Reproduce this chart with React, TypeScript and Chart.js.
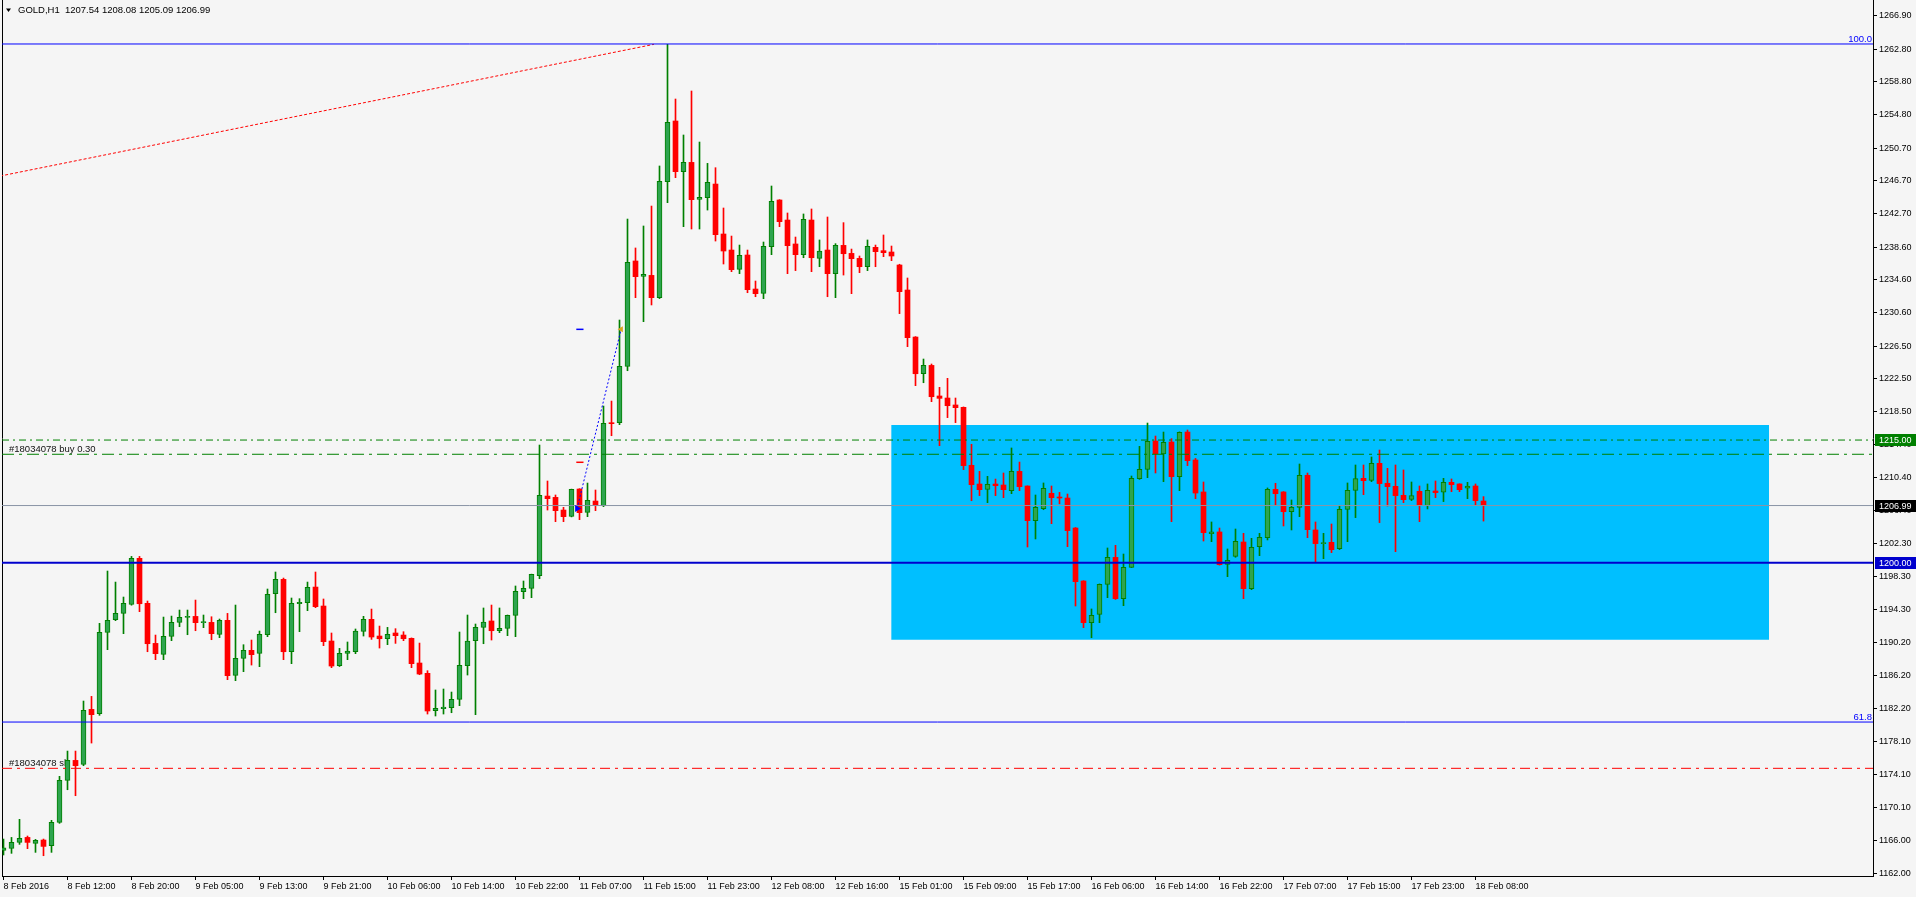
import React, { useEffect, useRef } from 'react';
import { Chart, registerables } from 'chart.js';

Chart.register(...registerables);

// ---------- data ----------
const symbol = 'GOLD,H1';

const opens = [1164.82,1165.06,1165.79,1166.40,1165.67,1166.08,1165.38,1168.24,1173.38,1175.82,
1175.33,1182.06,1181.53,1191.48,1193.03,1193.80,1194.90,1200.53,1195.03,1190.13,
1188.79,1190.99,1192.70,1193.31,1193.43,1192.66,1192.70,1191.23,1192.95,1186.22,
1188.30,1189.28,1188.91,1191.19,1196.21,1197.96,1189.11,1194.98,1195.11,1197.02,
1194.70,1190.42,1187.40,1188.91,1189.12,1191.60,1193.07,1191.03,1190.70,1191.40,
1191.15,1190.75,1187.73,1186.47,1181.90,1182.14,1182.27,1183.29,1187.40,1190.46,
1192.09,1192.87,1191.68,1191.97,1193.56,1196.45,1196.86,1198.41,1208.15,1207.99,
1206.44,1205.67,1209.01,1206.16,1207.54,1206.97,1217.08,1217.12,1224.01,1236.90,
1235.02,1235.14,1232.41,1246.60,1254.02,1247.82,1248.96,1244.44,1244.64,1246.31,
1240.20,1238.24,1235.88,1237.63,1233.47,1232.94,1238.65,1244.36,1241.91,1238.98,
1237.67,1241.91,1237.22,1238.24,1235.35,1238.81,1237.83,1237.22,1236.20,1238.57,
1238.16,1238.00,1236.41,1233.35,1227.60,1223.11,1224.13,1220.39,1220.14,1219.29,
1219.00,1211.91,1209.62,1208.97,1209.62,1209.50,1208.81,1211.17,1209.38,1205.14,
1206.61,1208.48,1207.95,1207.91,1204.24,1197.76,1192.66,1193.68,1197.35,1200.65,
1195.60,1199.43,1210.28,1211.42,1214.88,1213.29,1214.76,1210.52,1215.98,1212.56,
1208.65,1203.55,1203.76,1199.80,1200.78,1202.53,1196.82,1201.96,1203.06,1208.97,
1208.65,1206.24,1206.77,1210.69,1204.00,1202.33,1202.49,1201.72,1206.53,1208.85,
1210.32,1210.07,1212.15,1209.71,1209.34,1208.24,1207.75,1208.73,1206.98,1208.77,
1208.61,1209.83,1209.63,1209.10,1209.38,1207.54];

const highs = [1166.20,1166.40,1168.61,1166.57,1166.16,1166.20,1168.49,1173.87,1176.96,1176.96,
1183.08,1183.65,1192.58,1198.98,1197.63,1195.80,1200.77,1200.77,1195.31,1191.15,
1193.35,1193.47,1194.21,1194.21,1195.43,1193.60,1193.39,1193.11,1193.80,1194.82,
1189.97,1190.54,1191.64,1196.78,1198.86,1198.12,1195.68,1195.60,1197.63,1198.86,
1195.56,1191.40,1189.52,1190.30,1191.89,1193.44,1194.33,1192.25,1192.09,1191.93,
1191.56,1190.80,1190.17,1186.79,1184.43,1184.55,1184.18,1191.52,1193.60,1192.50,
1194.46,1194.82,1194.46,1193.60,1197.15,1197.76,1198.60,1214.39,1209.99,1208.28,
1206.77,1209.00,1209.05,1209.74,1208.89,1219.16,1219.77,1229.68,1242.03,1238.49,
1241.18,1243.62,1248.52,1263.40,1256.71,1252.31,1257.69,1251.45,1248.84,1248.31,
1243.38,1239.95,1238.85,1238.24,1234.45,1239.22,1246.07,1244.40,1242.77,1239.83,
1242.65,1243.26,1239.47,1242.28,1239.02,1241.59,1238.36,1237.51,1239.47,1238.85,
1240.08,1238.73,1236.50,1234.82,1227.65,1224.91,1224.30,1221.45,1222.55,1220.14,
1219.05,1214.48,1211.17,1210.56,1210.23,1210.97,1214.03,1212.31,1209.40,1208.28,
1209.75,1209.38,1208.60,1208.40,1204.30,1197.80,1194.34,1197.40,1201.80,1202.12,
1201.06,1210.60,1214.23,1217.08,1215.49,1215.98,1215.17,1216.00,1216.23,1212.76,
1209.87,1204.98,1204.24,1201.68,1204.12,1203.59,1202.98,1203.59,1209.14,1209.71,
1208.70,1207.67,1212.07,1210.97,1204.98,1203.59,1204.73,1207.02,1209.75,1211.95,
1211.95,1212.93,1213.78,1211.54,1211.95,1211.34,1209.87,1209.38,1209.63,1209.99,
1210.32,1210.24,1209.65,1209.83,1209.63,1208.08];

const lows = [1164.25,1164.45,1165.55,1165.02,1164.57,1164.16,1164.57,1168.12,1172.23,1171.50,
1175.17,1177.94,1181.33,1189.36,1192.91,1191.32,1194.80,1194.01,1189.11,1188.14,
1188.14,1190.46,1192.17,1191.19,1191.68,1192.05,1190.58,1190.83,1185.69,1185.57,
1186.67,1187.48,1187.28,1190.95,1193.88,1188.14,1187.65,1191.56,1194.13,1194.50,
1189.85,1187.16,1187.30,1188.14,1188.87,1191.03,1190.62,1189.56,1189.97,1190.13,
1190.46,1187.16,1186.30,1181.49,1181.25,1181.49,1181.65,1182.51,1186.26,1181.41,
1190.09,1190.54,1191.44,1191.07,1190.95,1195.60,1195.72,1198.04,1206.44,1205.02,
1205.02,1205.60,1205.26,1205.63,1206.36,1206.85,1215.53,1216.88,1223.48,1232.41,
1229.48,1231.52,1232.30,1244.03,1247.09,1241.10,1240.81,1240.81,1243.13,1239.34,
1236.53,1235.59,1235.35,1233.02,1232.53,1232.29,1237.67,1241.10,1235.35,1235.72,
1237.30,1235.59,1236.20,1232.53,1232.41,1235.18,1232.90,1235.47,1235.72,1236.20,
1237.43,1236.94,1230.46,1226.42,1221.65,1222.01,1219.69,1214.31,1217.74,1217.13,
1211.38,1207.58,1208.20,1207.34,1208.20,1207.95,1208.44,1208.81,1201.92,1202.90,
1206.48,1204.77,1207.20,1201.96,1194.70,1192.05,1190.83,1192.66,1195.72,1195.50,
1194.74,1199.40,1210.19,1210.40,1210.97,1209.91,1205.02,1208.81,1211.87,1207.83,
1202.65,1202.57,1199.70,1198.29,1200.66,1195.60,1196.70,1200.86,1202.78,1207.06,
1204.49,1204.00,1205.63,1203.06,1200.09,1200.49,1201.23,1201.60,1202.57,1205.51,
1208.32,1209.91,1204.90,1206.93,1201.35,1207.34,1207.59,1205.02,1206.57,1207.95,
1207.47,1208.69,1208.69,1207.83,1207.06,1205.09];

const closes = [1165.14,1165.79,1166.28,1165.79,1166.04,1165.30,1168.24,1173.38,1175.82,1175.17,
1181.94,1181.41,1191.48,1192.95,1193.80,1195.03,1200.53,1194.98,1190.09,1188.87,
1190.99,1192.70,1193.31,1193.43,1192.66,1192.70,1191.32,1192.95,1186.18,1188.30,
1189.28,1188.75,1191.23,1196.13,1197.96,1189.11,1195.03,1195.15,1196.98,1194.62,
1190.34,1187.36,1188.91,1189.20,1191.64,1193.07,1190.91,1190.70,1191.23,1191.07,
1190.70,1187.65,1186.38,1181.86,1182.18,1182.35,1183.29,1187.44,1190.42,1192.09,
1192.74,1191.68,1191.97,1193.56,1196.49,1196.86,1198.57,1208.24,1207.83,1206.36,
1205.63,1208.97,1206.12,1207.62,1207.01,1217.04,1217.00,1224.01,1236.73,1234.98,
1235.27,1232.41,1246.64,1253.86,1247.82,1248.96,1244.40,1244.68,1246.52,1240.12,
1238.12,1235.84,1237.59,1233.39,1232.90,1238.69,1244.19,1241.71,1238.77,1237.67,
1242.00,1237.30,1238.12,1235.35,1238.81,1237.79,1237.18,1236.20,1238.69,1238.04,
1237.92,1237.51,1233.15,1227.52,1223.11,1224.13,1220.30,1220.10,1219.20,1218.96,
1211.87,1209.54,1208.93,1209.58,1209.42,1208.93,1211.17,1209.30,1205.14,1206.77,
1209.09,1207.95,1207.91,1203.92,1197.68,1192.66,1193.56,1197.35,1200.65,1195.60,
1199.43,1210.32,1211.42,1214.84,1213.33,1214.72,1210.52,1215.94,1212.48,1208.52,
1203.67,1203.76,1199.76,1200.29,1202.61,1196.82,1201.88,1203.10,1208.97,1208.44,
1206.24,1206.77,1210.69,1204.04,1202.33,1202.41,1201.59,1206.53,1208.85,1210.28,
1210.03,1212.15,1209.67,1209.30,1208.20,1207.71,1208.20,1206.98,1208.85,1208.57,
1209.83,1209.54,1208.93,1209.38,1207.59,1206.99];

// time-axis labels (bar index -> label)
const xTickBars = [0,8,16,24,32,40,48,56,64,72,80,88,96,104,112,120,128,136,144,152,160,168,176,184];
const xTickLabels = ['8 Feb 2016','8 Feb 12:00','8 Feb 20:00','9 Feb 05:00','9 Feb 13:00','9 Feb 21:00',
  '10 Feb 06:00','10 Feb 14:00','10 Feb 22:00','11 Feb 07:00','11 Feb 15:00','11 Feb 23:00',
  '12 Feb 08:00','12 Feb 16:00','15 Feb 01:00','15 Feb 09:00','15 Feb 17:00','16 Feb 06:00',
  '16 Feb 14:00','16 Feb 22:00','17 Feb 07:00','17 Feb 15:00','17 Feb 23:00','18 Feb 08:00'];

const yTickValues = [1266.90,1262.80,1258.80,1254.80,1250.70,1246.70,1242.70,1238.60,1234.60,
  1230.60,1226.50,1222.50,1218.50,1214.40,1210.40,1206.40,1202.30,1198.30,1194.30,1190.20,
  1186.20,1182.20,1178.10,1174.10,1170.10,1166.00,1162.00];

// price levels
const fibLevelPrices = [1263.44, 1180.51];
const fibLevelLabels = ['100.0', '61.8'];
const supportPrice = 1200.00;
const bidPrice = 1206.99;
const alertPrice = 1215.00;
const orderOpenPrice = 1213.26;
const orderSlPrice = 1174.85;
const orderLabel = '#18034078 buy 0.30';
const slLabel = '#18034078 sl';

// zone rectangle (bar time range, price range)
const zoneBars = [110.96, 220.7];
const zonePrices = [1216.84, 1190.58];

// fib trend line (bar, price)
const fibTrendBars = [-0.41, 81.3];
const fibTrendPrices = [1247.29, 1263.40];

// closed trade (open -> close)
const tradeBars = [71.7, 77.2];
const tradePrices = [1206.63, 1228.54];
const tradeMarkBars = [71.6, 72.5];
const tradeTpPrice = 1228.54;
const tradeSlPrice = 1212.28;

// ---------- axis ranges ----------
const X_MIN = -0.1875;
const X_MAX = 233.6875;
const Y_MIN = 1161.68;
const Y_MAX = 1268.82;

const FONT = '"Liberation Sans", Arial, sans-serif';
const BULL_FILL = '#2ea44f';
const BULL_LINE = '#008000';
const BEAR = '#ff0000';

const bull = opens.map((o, i) => closes[i] >= o);

function hLine(price: number, color: string, width: number, dash: number[], order = 10) {
  return {
    type: 'line' as const,
    xAxisID: 'x', yAxisID: 'y',
    order,
    data: [{ x: X_MIN, y: price }, { x: X_MAX, y: price }],
    borderColor: color,
    borderWidth: width,
    borderDash: dash,
    pointRadius: 0,
    fill: false,
    tension: 0,
  };
}

const overlayPlugin = {
  id: 'mtOverlay',
  beforeDatasetsDraw(chart: any) {
    const { ctx, chartArea, scales } = chart;
    const y = scales.y;
    ctx.save();
    ctx.font = `9.5px ${FONT}`;
    ctx.fillStyle = '#111';
    ctx.textAlign = 'left';
    ctx.textBaseline = 'alphabetic';
    ctx.fillText(orderLabel, chartArea.left + 7, y.getPixelForValue(orderOpenPrice) - 2);
    ctx.fillText(slLabel, chartArea.left + 7, y.getPixelForValue(orderSlPrice) - 2);
    ctx.restore();
  },
  afterDraw(chart: any) {
    const { ctx, chartArea, scales, width } = chart;
    const y = scales.y;
    ctx.save();
    // header
    ctx.fillStyle = '#000';
    ctx.beginPath();
    ctx.moveTo(6, 8.5); ctx.lineTo(11, 8.5); ctx.lineTo(8.5, 12); ctx.closePath();
    ctx.fill();
    ctx.font = `9.5px ${FONT}`;
    ctx.textBaseline = 'middle';
    ctx.textAlign = 'left';
    const last = opens.length - 1;
    const header = `${symbol}  ${opens[last].toFixed(2)} ${highs[last].toFixed(2)} ${lows[last].toFixed(2)} ${closes[last].toFixed(2)}`;
    ctx.fillText(header, 18, 10.5);
    // fib level labels
    ctx.fillStyle = '#0000ff';
    ctx.textAlign = 'right';
    ctx.textBaseline = 'alphabetic';
    fibLevelPrices.forEach((p, i) => {
      ctx.fillText(fibLevelLabels[i], chartArea.right - 1, y.getPixelForValue(p) - 2);
    });
    // price boxes on the axis
    const boxes = [
      { p: alertPrice, bg: '#008000' },
      { p: bidPrice, bg: '#000000' },
      { p: supportPrice, bg: '#0000cd' },
    ];
    ctx.font = `9px ${FONT}`;
    ctx.textAlign = 'left';
    ctx.textBaseline = 'middle';
    boxes.forEach((b) => {
      const py = y.getPixelForValue(b.p);
      ctx.fillStyle = b.bg;
      ctx.fillRect(chartArea.right + 2, Math.round(py - 6), width - chartArea.right - 2, 12);
      ctx.fillStyle = '#fff';
      ctx.fillText(b.p.toFixed(2), chartArea.right + 6, py + 0.5);
    });
    ctx.restore();
  },
};

export default function App() {
  const ref = useRef<HTMLCanvasElement>(null);

  useEffect(() => {
    if (!ref.current) return;

    const datasets: any[] = [
      // zone rectangle
      {
        type: 'line', xAxisID: 'x', yAxisID: 'y', order: 100,
        data: [{ x: zoneBars[0], y: zonePrices[0] }, { x: zoneBars[1], y: zonePrices[0] }],
        borderWidth: 0, borderColor: 'rgba(0,0,0,0)', pointRadius: 0,
        backgroundColor: '#00bfff',
        fill: { value: zonePrices[1] },
      },
      // candle bodies
      {
        type: 'bar', xAxisID: 'x', yAxisID: 'y', order: 2,
        data: opens.map((o, i) => ({ x: i, y: [o, closes[i]] })),
        backgroundColor: bull.map((b) => (b ? BULL_FILL : BEAR)),
        borderColor: bull.map((b) => (b ? BULL_LINE : BEAR)),
        borderWidth: bull.map((b) => (b ? 1 : 0)),
        borderSkipped: false,
        barThickness: 5,
        minBarLength: 1,
        grouped: false,
      },
      // wicks
      {
        type: 'bar', xAxisID: 'x', yAxisID: 'y', order: 3,
        data: lows.map((l, i) => ({ x: i, y: [l, highs[i]] })),
        backgroundColor: bull.map((b) => (b ? BULL_LINE : BEAR)),
        borderWidth: 0,
        barThickness: 1,
        minBarLength: 1,
        grouped: false,
      },
      // horizontal levels
      hLine(fibLevelPrices[0], '#0000ff', 1, [], 1),
      hLine(fibLevelPrices[1], '#0000ff', 1, [], 1),
      hLine(supportPrice, '#0000cd', 2, [], 1),
      hLine(bidPrice, '#8a94a6', 1, [], 1),
      hLine(alertPrice, '#008000', 1, [7, 4, 2, 4], 1),
      hLine(orderOpenPrice, '#008000', 1, [12, 5, 3, 5], 1),
      hLine(orderSlPrice, '#ff0000', 1, [10, 5, 3, 5], 1),
      // fib trend line
      {
        type: 'line', xAxisID: 'x', yAxisID: 'y', order: 1,
        data: fibTrendBars.map((b, i) => ({ x: b, y: fibTrendPrices[i] })),
        borderColor: '#ff0000', borderWidth: 1, borderDash: [3, 2], pointRadius: 0, fill: false,
      },
      // trade line
      {
        type: 'line', xAxisID: 'x', yAxisID: 'y', order: 1,
        data: tradeBars.map((b, i) => ({ x: b, y: tradePrices[i] })),
        borderColor: '#0000ff', borderWidth: 1, borderDash: [2, 2], pointRadius: 0, fill: false,
      },
      // trade TP / SL marks
      {
        type: 'line', xAxisID: 'x', yAxisID: 'y', order: 1,
        data: tradeMarkBars.map((b) => ({ x: b, y: tradeTpPrice })),
        borderColor: '#0000ff', borderWidth: 1.5, pointRadius: 0, fill: false,
      },
      {
        type: 'line', xAxisID: 'x', yAxisID: 'y', order: 1,
        data: tradeMarkBars.map((b) => ({ x: b, y: tradeSlPrice })),
        borderColor: '#ff0000', borderWidth: 1.5, pointRadius: 0, fill: false,
      },
      // trade arrows
      {
        type: 'line', xAxisID: 'x', yAxisID: 'y', order: 0, showLine: false,
        data: [{ x: tradeBars[0], y: tradePrices[0] }],
        pointStyle: 'triangle', pointRotation: 90, pointRadius: 4,
        pointBackgroundColor: '#0000ff', pointBorderColor: '#0000ff', pointBorderWidth: 0,
      },
      {
        type: 'line', xAxisID: 'x', yAxisID: 'y', order: 0, showLine: false,
        data: [{ x: tradeBars[1], y: tradePrices[1] }],
        pointStyle: 'triangle', pointRotation: -90, pointRadius: 3.5,
        pointBackgroundColor: '#daa520', pointBorderColor: '#daa520', pointBorderWidth: 0,
      },
    ];

    const chart = new Chart(ref.current, {
      type: 'bar',
      data: { datasets },
      options: {
        responsive: false,
        animation: false,
        devicePixelRatio: 1,
        events: [],
        layout: { padding: 0, autoPadding: false },
        plugins: { legend: { display: false }, tooltip: { enabled: false } },
        scales: {
          x: {
            type: 'linear',
            position: 'bottom',
            min: X_MIN,
            max: X_MAX,
            offset: false,
            grid: { offset: false, drawOnChartArea: false, drawTicks: true, tickLength: 4, color: '#000', tickColor: '#000' },
            border: { display: true, color: '#000', width: 1 },
            ticks: {
              autoSkip: false, maxRotation: 0, minRotation: 0, align: 'start', padding: 1,
              color: '#000', font: { family: FONT, size: 9 },
              callback: (_v: any, i: number) => xTickLabels[i] ?? '',
            },
            afterBuildTicks: (s: any) => { s.ticks = xTickBars.map((v) => ({ value: v })); },
            afterFit: (s: any) => { s.height = 21; s.paddingLeft = 0; s.paddingRight = 0; },
          },
          y: {
            type: 'linear',
            position: 'right',
            min: Y_MIN,
            max: Y_MAX,
            grid: { drawOnChartArea: false, drawTicks: true, tickLength: 4, color: '#000', tickColor: '#000' },
            border: { display: true, color: '#000', width: 1 },
            ticks: {
              padding: 2, color: '#000', font: { family: FONT, size: 9 },
              callback: (v: any) => Number(v).toFixed(2),
            },
            afterBuildTicks: (s: any) => { s.ticks = yTickValues.map((v) => ({ value: v })); },
            afterFit: (s: any) => { s.width = 43; s.paddingTop = 0; s.paddingBottom = 0; },
          },
          yl: {
            type: 'linear',
            position: 'left',
            min: Y_MIN,
            max: Y_MAX,
            grid: { display: false, drawTicks: false },
            border: { display: true, color: '#000', width: 1 },
            ticks: { display: false },
            afterFit: (s: any) => { s.width = 2; s.paddingTop = 0; s.paddingBottom = 0; },
          },
        },
      } as any,
      plugins: [overlayPlugin],
    } as any);

    return () => chart.destroy();
  }, []);

  return (
    <div style={{ position: 'fixed', left: 0, top: 0, width: 1916, height: 897, background: '#f5f5f5' }}>
      <canvas ref={ref} width={1916} height={897} style={{ display: 'block', width: 1916, height: 897 }} />
    </div>
  );
}
